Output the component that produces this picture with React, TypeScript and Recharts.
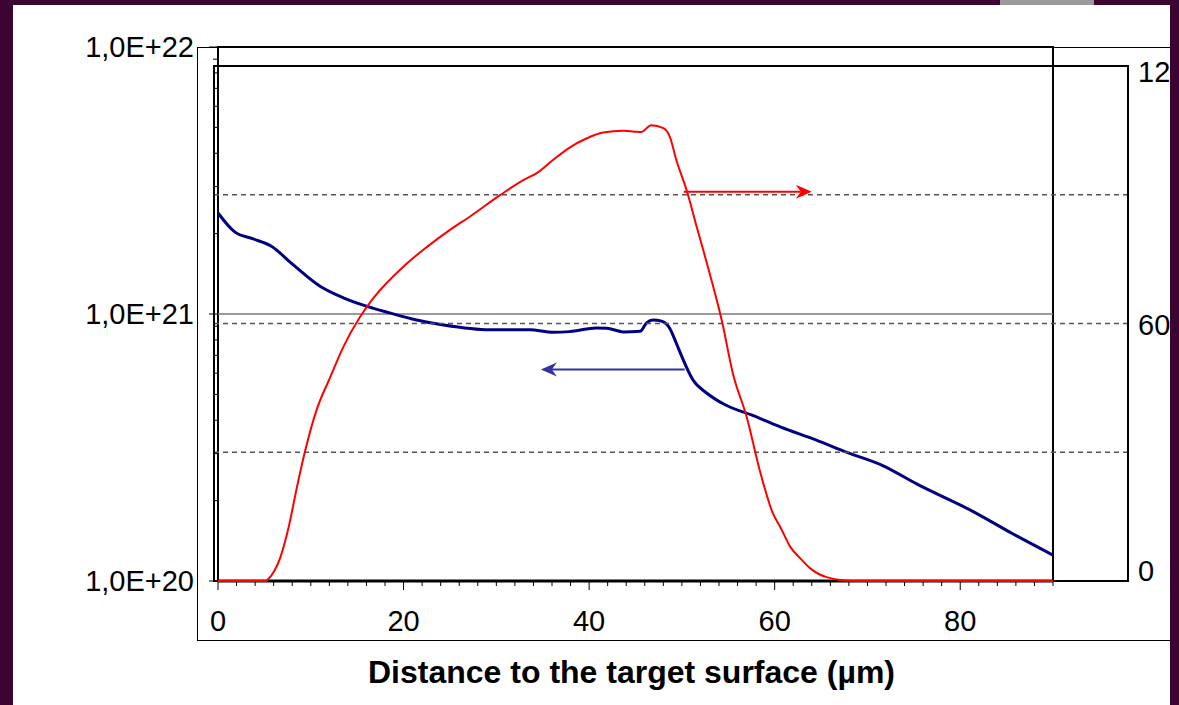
import React from "react"
import { ComposedChart, Line, XAxis, YAxis, CartesianGrid, ReferenceArea, ReferenceLine, Label } from "recharts"

const W = 1179
const H = 705
const FONT = "'Liberation Sans', Arial, sans-serif"
const PURPLE = "#3a0330"

// concentration profile, left log axis
const blueX = [0, 1.8, 3.8, 5.8, 7.9, 11, 13.5, 16, 18.5, 21.4, 24.3, 29.3, 33.6, 36.1, 37.9, 40.8, 41.9, 43.7, 45.5, 46.2, 46.9, 47.8, 48.7, 49.4, 50, 51.2, 52.7, 54.5, 57.7, 60.6, 64.5, 67.8, 71.7, 75.3, 81.4, 85.7, 90]
const blueY = [2.39e21, 2.03e21, 1.91e21, 1.79e21, 1.55e21, 1.27e21, 1.15e21, 1.07e21, 1.01e21, 9.5e20, 9.1e20, 8.73e20, 8.73e20, 8.55e20, 8.59e20, 8.87e20, 8.85e20, 8.57e20, 8.61e20, 9.27e20, 9.5e20, 9.4e20, 8.83e20, 7.77e20, 6.92e20, 5.66e20, 5.05e20, 4.6e20, 4.16e20, 3.78e20, 3.37e20, 3.03e20, 2.7e20, 2.31e20, 1.82e20, 1.5e20, 1.25e20]

// second profile, right linear axis
const redX = [0, 5.2, 5.4, 6.7, 7.6, 8.5, 9.4, 10.6, 12.1, 13.5, 15.3, 16.7, 20, 22.5, 25, 27.2, 30.4, 32.9, 34.4, 36.1, 37.9, 39.7, 41.5, 43.7, 44.9, 45.6, 46.7, 48, 48.7, 49.4, 50.5, 51.6, 53, 54.3, 55.5, 57, 58.4, 59.8, 60.6, 61.7, 62.7, 63.8, 65.6, 68.5, 90]
const redY = [0, 0, 0.4, 5.4, 12.4, 21.8, 30.4, 39.7, 47.5, 54.5, 61.5, 65.8, 73.3, 77.8, 81.8, 85.0, 89.9, 93.4, 95.1, 98.1, 101, 103.1, 104.5, 104.9, 104.7, 104.6, 106.2, 105.5, 103.5, 98.1, 91.1, 82.5, 71.6, 60.7, 48.3, 38.1, 25.7, 15.8, 12.6, 7.9, 5.4, 3.0, 0.9, 0, 0]

const xTicks = [0, 2, 4, 6, 8, 10, 12, 14, 16, 18, 20, 22, 24, 26, 28, 30, 32, 34, 36, 38, 40, 42, 44, 46, 48, 50, 52, 54, 56, 58, 60, 62, 64, 66, 68, 70, 72, 74, 76, 78, 80, 82, 84, 86, 88, 90]
const xLabels = [0, 20, 40, 60, 80]
const logTicks = [1e20, 2e20, 3e20, 4e20, 5e20, 6e20, 7e20, 8e20, 9e20, 1e21, 2e21, 3e21, 4e21, 5e21, 6e21, 7e21, 8e21, 9e21, 1e22]
const rightTicks = [0, 30, 60, 90, 120]
const rightLabels = [0, 60, 120]

// second chart frame is wider than the first; this x domain keeps both curves on the same x scale
const redDomain: [number, number] = [-0.431, 98.08]

const blueData = blueX.map((x, i) => ({ x, v: blueY[i] }))
const redData = redX.map((x, i) => ({ x, v: redY[i] }))

const XTick = (p: any) => {
  const { x, y, payload } = p
  const major = xLabels.includes(payload.value)
  return (
    <g>
      <line x1={x} y1={y} x2={x} y2={y + (major ? 9 : 5)} stroke="#000" strokeWidth={1} />
      {major && (
        <text x={x} y={y + 50} textAnchor="middle" fontSize={29} fontFamily={FONT} fill="#000">
          {payload.value}
        </text>
      )}
    </g>
  )
}

const LogTick = (p: any) => {
  const { x, y, payload } = p
  const v = payload.value
  const e = Math.round(Math.log10(v))
  const major = Math.abs(v - Math.pow(10, e)) < v * 1e-6
  return (
    <g>
      <line x1={x - (major ? 9 : 5)} y1={y} x2={x} y2={y} stroke="#000" strokeWidth={1} />
      {major && (
        <text x={x - 24} y={y} dy="0.36em" textAnchor="end" fontSize={29} fontFamily={FONT} fill="#000">
          {`1,0E+${e}`}
        </text>
      )}
    </g>
  )
}

const RightTick = (p: any) => {
  const { x, y, payload } = p
  const v = payload.value
  if (!rightLabels.includes(v)) return null
  const shift = v === 120 ? 6 : v === 0 ? -10 : 1
  return (
    <text x={x + 10} y={y + shift} dy="0.36em" textAnchor="start" fontSize={29} fontFamily={FONT} fill="#000">
      {v}
    </text>
  )
}

const arrowShape = (color: string, width: number) => (p: any) => {
  const { x1, y1, x2, y2 } = p
  const dir = x2 > x1 ? 1 : -1
  const len = 16
  const half = 7
  const notch = 11
  const pts = `${x2},${y2} ${x2 - dir * len},${y2 - half} ${x2 - dir * notch},${y2} ${x2 - dir * len},${y2 + half}`
  return (
    <g>
      <line x1={x1} y1={y1} x2={x2 - dir * notch} y2={y2} stroke={color} strokeWidth={width} />
      <polygon points={pts} fill={color} />
    </g>
  )
}

export default function App() {
  return (
    <div style={{ position: "relative", width: W, height: H, background: PURPLE, overflow: "hidden", fontFamily: FONT }}>
      <style>{`body{margin:0}`}</style>
      <div style={{ position: "absolute", left: 1000, top: 0, width: 94, height: 5, background: "#9a9a9a" }} />
      <div style={{ position: "absolute", left: 13, top: 5, width: 1157, height: 700, background: "#fff", overflow: "hidden" }}>
        <div style={{ position: "absolute", left: -13, top: -5, width: W, height: H }}>
          <div
            style={{
              position: "absolute",
              left: 197,
              top: 47,
              width: 976,
              height: 594,
              border: "1px solid #000",
              boxSizing: "border-box",
            }}
          />
          <div style={{ position: "absolute", left: 0, top: 0 }}>
            <ComposedChart width={W} height={H} margin={{ top: 47, right: 126, bottom: 14, left: 98 }}>
              <XAxis
                dataKey="x"
                type="number"
                domain={[0, 90]}
                ticks={xTicks}
                interval={0}
                tick={<XTick />}
                tickLine={false}
                tickSize={0}
                tickMargin={0}
                axisLine={{ stroke: "#000", strokeWidth: 3 }}
                height={110}
                allowDataOverflow
              >
                <Label
                  value="Distance to the target surface (µm)"
                  position="insideBottom"
                  offset={8}
                  dx={-4}
                  style={{ fontWeight: 700, fontSize: 32, fill: "#000", fontFamily: FONT }}
                />
              </XAxis>
              <YAxis
                scale="log"
                domain={[1e20, 1e22]}
                ticks={logTicks}
                interval={0}
                width={120}
                axisLine={false}
                tickLine={false}
                tickSize={0}
                tickMargin={0}
                tick={<LogTick />}
                allowDataOverflow
              />
              <ReferenceLine y={1e21} stroke="#7a7a7a" strokeWidth={1.5} />
              <ReferenceArea y1={1e20} y2={1e22} fill="none" stroke="#000" strokeWidth={2} ifOverflow="visible" />
              <Line
                data={blueData}
                dataKey="v"
                type="monotone"
                stroke="#000080"
                strokeWidth={3}
                dot={false}
                activeDot={false}
                isAnimationActive={false}
              />
              <ReferenceLine
                segment={[
                  { x: 50.3, y: 6.2e20 },
                  { x: 34.8, y: 6.2e20 },
                ]}
                shape={arrowShape("#3333a0", 2)}
              />
            </ComposedChart>
          </div>
          <div style={{ position: "absolute", left: 0, top: 0 }}>
            <ComposedChart width={W} height={H} margin={{ top: 66, right: 0, bottom: 124, left: 214 }}>
              <CartesianGrid vertical={false} stroke="#555" strokeDasharray="5 4" strokeWidth={1.5} />
              <XAxis dataKey="x" type="number" domain={redDomain} hide allowDataOverflow />
              <YAxis
                orientation="right"
                domain={[0, 120]}
                ticks={rightTicks}
                interval={0}
                width={51}
                axisLine={false}
                tickLine={false}
                tickSize={0}
                tickMargin={0}
                tick={<RightTick />}
              />
              <ReferenceArea y1={0} y2={120} fill="none" stroke="#000" strokeWidth={2} ifOverflow="visible" />
              <Line
                data={redData}
                dataKey="v"
                type="monotone"
                stroke="#ff0000"
                strokeWidth={2}
                dot={false}
                activeDot={false}
                isAnimationActive={false}
              />
              <ReferenceLine
                segment={[
                  { x: 50.2, y: 90.7 },
                  { x: 64, y: 90.7 },
                ]}
                shape={arrowShape("#ff0000", 2)}
              />
            </ComposedChart>
          </div>
        </div>
      </div>
    </div>
  )
}
